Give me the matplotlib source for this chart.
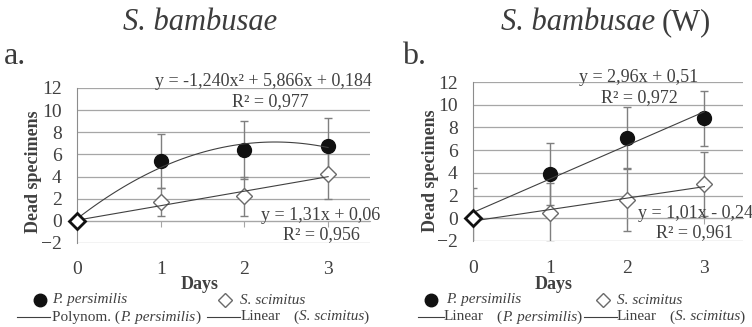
import matplotlib
matplotlib.use("Agg")
import matplotlib.pyplot as plt
from matplotlib.lines import Line2D
import numpy as np

plt.rcParams['font.family'] = ['Liberation Serif', 'DejaVu Serif']

# data
days = [0, 1, 2, 3]

# a. S. bambusae
a_pers = [0, 5.4, 6.4, 6.8]
a_pers_err = [0, 2.4, 2.6, 2.5]
a_scim = [0, 1.7, 2.2, 4.2]
a_scim_err = [0, 1.3, 1.8, 2.2]
a_pers_fit = [-1.240, 5.866, 0.184]
a_scim_fit = [1.31, 0.06]
a_pers_eq = ["y = -1,240x² + 5,866x + 0,184", "R² = 0,977"]
a_scim_eq = ["y = 1,31x + 0,06", "R² = 0,956"]

# b. S. bambusae (W)
b_pers = [0, 3.9, 7.1, 8.8]
b_pers_err = [2.7, 2.7, 2.7, 2.4]
b_scim = [0, 0.5, 1.6, 3.0]
b_scim_err = [0, 2.6, 2.7, 2.8]
b_pers_fit = [2.96, 0.51]
b_scim_fit = [1.01, -0.24]
b_pers_eq = ["y = 2,96x + 0,51", "R² = 0,972"]
b_scim_eq = ["y = 1,01x - 0,24", "R² = 0,961"]

yticks = [-2, 0, 2, 4, 6, 8, 10, 12]

txt = '#404040'
grid_c = '#a6a6a6'
err_c = '#7f7f7f'
line_c = '#404040'
W, H = 752, 327

fig = plt.figure(figsize=(7.52, 3.27), dpi=100)
ax1 = fig.add_axes([0.1024, 0.2569, 0.3896, 0.474])
ax2 = fig.add_axes([0.629, 0.263, 0.359, 0.486])


def draw_panel(ax, pers, pers_err, scim, scim_err, pers_fit, scim_fit, xpad):
    xs = np.linspace(0, 3, 60)
    ax.errorbar(days, pers, yerr=pers_err, fmt='none', ecolor=err_c,
                elinewidth=1, capsize=3, capthick=1, zorder=2)
    ax.errorbar(days, scim, yerr=scim_err, fmt='none', ecolor=err_c,
                elinewidth=1, capsize=3, capthick=1, zorder=2)
    ax.plot(days, pers, ls='none', marker='o', ms=10, color='#111111',
            markevery=[1, 2, 3], clip_on=False, zorder=4)
    ax.plot(days, scim, ls='none', marker='D', ms=8.5, mfc='white', mec='#6a6a6a',
            mew=1, markevery=[1, 2, 3], clip_on=False, zorder=4)
    ax.plot(days, scim, ls='none', marker='D', ms=8.5, mfc='white', mec='#111111',
            mew=2, markevery=[0], clip_on=False, zorder=6)
    ax.plot(xs, np.polyval(pers_fit, xs), color=line_c, lw=0.8, zorder=5)
    ax.plot(xs, np.polyval(scim_fit, xs), color=line_c, lw=0.8, zorder=5)

    ax.set_xlim(0, 3.5)
    ax.set_ylim(-2, 12)
    ax.set_yticks(yticks)
    ax.set_xticks(days)
    ax.yaxis.grid(True, color=grid_c, lw=0.9)
    ax.set_axisbelow(True)
    for s in ['top', 'right']:
        ax.spines[s].set_visible(False)
    ax.spines['bottom'].set_position(('data', 0))
    ax.spines['bottom'].set_color(grid_c)
    ax.spines['left'].set_color('#8c8c8c')
    ax.tick_params(axis='y', length=0, pad=11, labelsize=14, labelcolor=txt)
    ax.tick_params(axis='x', length=4, color=grid_c, pad=xpad, labelsize=14, labelcolor=txt)
    ax.set_xlabel('Days', fontsize=13, fontweight='bold', color=txt, labelpad=0)
    ax.set_ylabel('Dead specimens', fontsize=13, fontweight='bold', color=txt)


draw_panel(ax1, a_pers, a_pers_err, a_scim, a_scim_err, a_pers_fit, a_scim_fit, 25)
draw_panel(ax2, b_pers, b_pers_err, b_scim, b_scim_err, b_pers_fit, b_scim_fit, 26)

ax1.xaxis.set_label_coords(0.42, -0.215)
ax2.xaxis.set_label_coords(0.30, -0.222)
ax1.yaxis.set_label_coords(-0.12, 0.46)
ax2.yaxis.set_label_coords(-0.127, 0.44)

# equations
eq_kw = dict(fontsize=13, color=txt, ha='center', va='center')
fig.text(263 / W, 1 - 82 / H, a_pers_eq[0], **eq_kw)
fig.text(270 / W, 1 - 102 / H, a_pers_eq[1], **eq_kw)
fig.text(321 / W, 1 - 215 / H, a_scim_eq[0], **eq_kw)
fig.text(321 / W, 1 - 235 / H, a_scim_eq[1], **eq_kw)
fig.text(639 / W, 1 - 77 / H, b_pers_eq[0], **eq_kw)
fig.text(639 / W, 1 - 98 / H, b_pers_eq[1], **eq_kw)
fig.text(696 / W, 1 - 213 / H, b_scim_eq[0], **eq_kw)
fig.text(694 / W, 1 - 233 / H, b_scim_eq[1], **eq_kw)


def rich(x, y, parts, size, color=txt):
    # parts: (text, style, gap in points before it)
    s, st, _ = parts[0]
    t = fig.text(x / W, 1 - y / H, s, fontsize=size, style=st, color=color,
                 ha='left', va='center')
    for s, st, gap in parts[1:]:
        t = ax1.annotate(s, xy=(1, 0.5), xycoords=t, xytext=(gap, 0),
                         textcoords='offset points', fontsize=size, style=st,
                         color=color, ha='left', va='center')
    return t


# titles and panel letters
title_c = '#3c3c3c'
rich(123, 23, [('S. bambusae', 'italic', 0)], 22, title_c)
rich(501, 23, [('S. bambusae', 'italic', 0), ('(W)', 'normal', 5)], 22, title_c)
fig.text(4 / W, 1 - 56 / H, 'a.', fontsize=23, color=title_c, ha='left', va='center')
fig.text(402 / W, 1 - 56 / H, 'b.', fontsize=23, color=title_c, ha='left', va='center')

# legends
leg_fs = 11
row1, row2 = 300, 317


def key_marker(x, y, **kw):
    fig.add_artist(Line2D([x / W], [1 - y / H], ls='none', transform=fig.transFigure, **kw))


def key_line(x0, x1, y):
    fig.add_artist(Line2D([x0 / W, x1 / W], [1 - y / H, 1 - y / H], color=line_c, lw=0.8,
                          transform=fig.transFigure))


dot = dict(marker='o', ms=9, color='#111111')
dia = dict(marker='D', ms=7, mfc='white', mec='#6a6a6a', mew=1)

# a.
key_marker(40, row1, **dot)
rich(52, row1, [('P. persimilis', 'italic', 0)], leg_fs)
key_marker(225, row1, **dia)
rich(240, row1, [('S. scimitus', 'italic', 0)], leg_fs)
key_line(17, 50, row2)
rich(52, row2, [('Polynom. (', 'normal', 0), ('P. persimilis', 'italic', 0),
                (')', 'normal', 0)], leg_fs)
key_line(207, 240, row2)
rich(241, row2, [('Linear', 'normal', 0), ('(', 'normal', 9), ('S. scimitus', 'italic', 0),
                 (')', 'normal', 0)], leg_fs)

# b.
key_marker(431, row1, **dot)
rich(446, row1, [('P. persimilis', 'italic', 0)], leg_fs)
key_marker(603, row1, **dia)
rich(617, row1, [('S. scimitus', 'italic', 0)], leg_fs)
key_line(418, 444, row2)
rich(444, row2, [('Linear', 'normal', 0), ('(', 'normal', 9), ('P. persimilis', 'italic', 0),
                 (')', 'normal', 0)], leg_fs)
key_line(584, 617, row2)
rich(617, row2, [('Linear', 'normal', 0), ('(', 'normal', 9), ('S. scimitus', 'italic', 0),
                 (')', 'normal', 0)], leg_fs)

fig.savefig('out.png', dpi=100)
